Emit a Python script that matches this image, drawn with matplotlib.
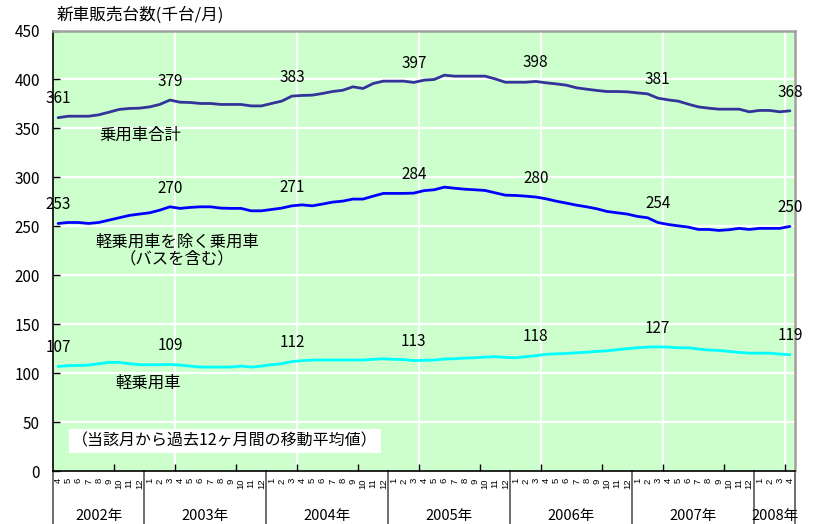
import matplotlib
matplotlib.use("Agg")
import matplotlib.pyplot as plt
import matplotlib.transforms as mtransforms

plt.rcParams['font.family'] = ['Noto Sans CJK JP', 'DejaVu Sans']

# Month labels: April 2002 .. April 2008
years = [2002, 2003, 2004, 2005, 2006, 2007, 2008]
month_labels = ([str(m) for m in range(4, 13)]
                + [str(m) for m in range(1, 13)] * 5
                + [str(m) for m in range(1, 5)])

# 12-month moving averages (thousand units / month)
total_cars = [361, 362.5, 362.5, 362.5, 363.9, 366.6, 369.4, 370.4, 370.7, 372, 374.5, 379,
              376.8, 376.5, 375.5, 375.5, 374.5, 374.5, 374.5, 373, 373, 375.5, 377.9, 383,
              383.7, 384, 385.7, 387.7, 389, 392.5, 390.8, 395.9, 398.3, 398.3, 398.3, 397,
              399.3, 400, 404.4, 403.4, 403.4, 403.4, 403.4, 400.6, 397.2, 397.2, 397.2, 398,
              396.6, 395.5, 394.2, 391.5, 390.1, 388.8, 387.7, 387.7, 387.4, 386.3, 385.3, 381,
              379.2, 377.9, 374.8, 372, 370.7, 369.7, 369.7, 369.7, 367, 368.4, 368.4, 367, 368]

regular_cars = [253, 254, 254, 253, 254, 256.4, 258.8, 261.2, 262.6, 263.9, 266.6, 270,
                268.4, 269.4, 270, 270, 268.7, 268.4, 268.4, 265.9, 265.9, 267.3, 268.7, 271,
                272, 271, 272.8, 274.8, 275.8, 277.9, 277.9, 280.9, 283.7, 283.7, 283.7, 284,
                286.5, 287.4, 290.1, 289, 288, 287.4, 286.7, 284.3, 281.9, 281.6, 280.9, 280,
                278.2, 275.8, 273.8, 271.7, 270, 268, 265.3, 263.9, 262.6, 260.2, 258.8, 254,
                252, 250.6, 249.3, 246.9, 246.9, 245.9, 246.6, 248, 246.9, 248, 248, 248, 250]

light_cars = [107, 107.8, 108.1, 108.4, 109.8, 111.2, 111.2, 109.8, 108.8, 108.8, 108.8, 109,
              108.4, 107.4, 106.4, 106.4, 106.4, 106.4, 107.4, 106.4, 107.4, 108.8, 109.8, 112,
              112.9, 113.6, 113.6, 113.6, 113.6, 113.6, 113.6, 114.3, 114.9, 114.3, 114, 113,
              113.3, 113.6, 114.6, 114.9, 115.6, 115.9, 116.6, 117, 116.3, 115.9, 117, 118,
              119.4, 119.9, 120.3, 121, 121.6, 122.4, 123, 124.1, 125.2, 126.1, 126.8, 127,
              126.8, 126.1, 126.1, 124.8, 123.8, 123.4, 122.4, 121.4, 120.6, 120.6, 120.6, 119.7, 119]

# Points whose values are printed (each March and the latest month)
label_idx = [0, 11, 23, 35, 47, 59, 72]

x = list(range(len(month_labels)))

fig = plt.figure(figsize=(8.15, 5.24), dpi=100)
ax = fig.add_axes([53 / 815, 1 - 471.3 / 524, 742 / 815, 440.8 / 524])
ax.set_facecolor('#CCFFCC')

# grid
for v in range(50, 450, 50):
    ax.axhline(v, color='white', lw=1.6, zorder=1)
for k in range(12, 73, 12):
    ax.axvline(k - 0.5, color='white', lw=1.6, zorder=1)

series = [(total_cars, '#333399'), (regular_cars, '#0000FF'), (light_cars, '#00FFFF')]
for vals, col in series:
    ax.plot(x, vals, color=col, lw=2.0, zorder=3, solid_capstyle='round')
    for i in label_idx:
        ax.annotate(f"{vals[i]:.0f}", (x[i], vals[i]), xytext=(0, 13.5),
                    textcoords='offset points', ha='center', va='center',
                    fontsize=11, color='black', zorder=4)

ax.set_xlim(-0.5, len(x) - 0.5)
ax.set_ylim(0, 450)
ax.set_yticks(range(0, 451, 50))
ax.tick_params(axis='y', direction='in', length=5, width=1, labelsize=11, pad=9.5)

ax.set_xticks(x)
ax.set_xticklabels(month_labels, rotation=90, va='top', ha='center', fontsize=6.8,
                   family='Liberation Sans')
ax.tick_params(axis='x', which='major', length=0, pad=5)
ax.set_xticks([k - 0.5 for k in range(6, 73, 6)], minor=True)
ax.tick_params(axis='x', which='minor', direction='in', length=5, width=1, color='black')

for s in ['left', 'bottom']:
    ax.spines[s].set_color('black')
    ax.spines[s].set_linewidth(1.2)
for s in ['top', 'right']:
    ax.spines[s].set_color('#A0A0A0')
    ax.spines[s].set_linewidth(1.8)

# year separators and year labels below the axis
trans = mtransforms.blended_transform_factory(ax.transData, ax.transAxes)
bounds = [-0.5]
pos = -0.5 + 9
while pos < len(x) - 0.5:
    bounds.append(pos)
    pos += 12
bounds.append(len(x) - 0.5)
for b in bounds:
    ax.plot([b, b], [0, -0.13], transform=trans, color='#555555', lw=1.2, clip_on=False)
for y, (a, b) in zip(years, zip(bounds[:-1], bounds[1:])):
    ax.text((a + b) / 2, -0.101, f"{y}年", transform=trans, ha='center', va='center',
            fontsize=10.5)

# series names
ax.text(4.1, 343, "乗用車合計", fontsize=11.8, ha='left', va='center', zorder=5)
ax.text(11.7, 234, "軽乗用車を除く乗用車", fontsize=11.8, ha='center', va='center', zorder=5)
ax.text(11.7, 216.5, "（バスを含む）", fontsize=11.8, ha='center', va='center', zorder=5)
ax.text(5.6, 90, "軽乗用車", fontsize=11.8, ha='left', va='center', zorder=5)
ax.text(1.4, 31, "（当該月から過去12ヶ月間の移動平均値）", fontsize=11.5, ha='left', va='center',
        zorder=5, bbox=dict(facecolor='white', edgecolor='none', pad=2.5))

fig.text(57 / 815, 1 - 15 / 524, "新車販売台数(千台/月)", fontsize=12, ha='left', va='center')

fig.savefig("out.png", dpi=100)
